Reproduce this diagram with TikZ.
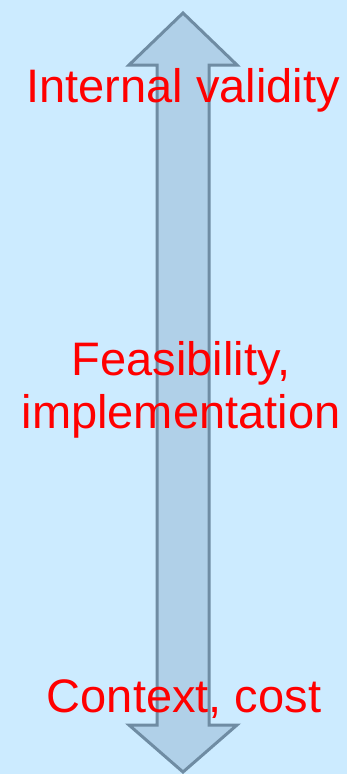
\documentclass[tikz,border=0pt]{standalone}
\usepackage{fontspec}
\setmainfont{Liberation Sans}
\definecolor{bgblue}{HTML}{CCEBFF}
\definecolor{arrowfill}{HTML}{B0D0E8}
\definecolor{arrowline}{HTML}{6F8CA3}
\tikzset{
    label text/.style={text=red, font=\fontsize{47}{52}\selectfont, inner sep=0pt, anchor=base, align=center},
}
\begin{document}
\begin{tikzpicture}[x=1pt, y=-1pt]
    \fill[bgblue] (0,0) rectangle (347,774);
    \useasboundingbox (0,0) rectangle (347,774);

    \draw[fill=arrowfill, draw=arrowline, line width=3pt]
        (183,13) -- (129,65) -- (157,65) -- (157,725) -- (129,725) -- (183,772)
        -- (237,725) -- (209,725) -- (209,65) -- (237,65) -- cycle;

    \node[label text] (internal) at (183,102) {Internal validity};
    \node[label text] (feasib) at (181,375) {Feasibility,};
    \node[label text] (implem) at (181,428) {implementation};
    \node[label text] (context) at (184,712) {Context, cost};
\end{tikzpicture}
\end{document}
